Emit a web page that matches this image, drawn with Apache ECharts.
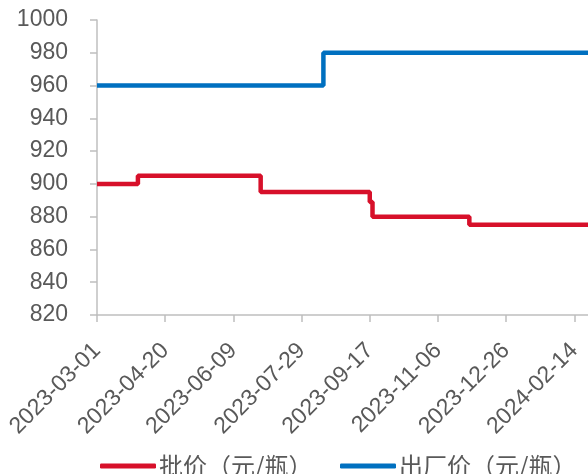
<!DOCTYPE html>
<html><head><meta charset="utf-8">
<script src="https://cdn.jsdelivr.net/npm/echarts@6/dist/echarts.min.js"></script>
<style>html,body{margin:0;padding:0;background:#fff}#c{width:588px;height:474px}</style>
</head><body><div id="c"></div>
<script>
// Data: change points of the step series
const startDate = '2023-03-01';
const endDate = '2024-02-24';
const pfDates = ['2023-03-01','2023-03-31','2023-06-29','2023-09-17','2023-09-19','2023-11-29','2024-02-24'];
const pfValues = [900, 905, 895, 889, 880, 875, 875];
const ccDates = ['2023-03-01','2023-08-14','2024-02-24'];
const ccValues = [960, 980, 980];
const seriesNames = ['批价（元/瓶）', '出厂价（元/瓶）'];
const yTicks = {min: 820, max: 1000, interval: 20};
const xTickIntervalDays = 50;

const DAY = 86400000;
const t0 = Date.parse(startDate + 'T00:00:00Z');
const toDay = d => Math.round((Date.parse(d + 'T00:00:00Z') - t0) / DAY);
const fmt = n => new Date(t0 + n * DAY).toISOString().slice(0, 10);
const pairs = (ds, vs) => ds.map((d, i) => [toDay(d), vs[i]]);

const font = 'Liberation Sans, Arial, Noto Sans CJK SC, sans-serif';
const gray = '#595959';
const axisGray = '#BFBFBF';
const legendBase = {
  top: 449, itemWidth: 56, itemHeight: 5, icon: 'roundRect',
  textStyle: {color: gray, fontSize: 24, fontFamily: 'Noto Sans CJK SC, sans-serif', padding: [0,0,0,-2]}
};

const chart = echarts.init(document.getElementById('c'));
chart.setOption({
  animation: false,
  grid: {left: 97, top: 20, right: 0, bottom: 159, containLabel: false},
  xAxis: {
    type: 'value', min: 0, max: toDay(endDate), interval: xTickIntervalDays,
    splitLine: {show: false},
    axisLine: {show: true, lineStyle: {color: axisGray, width: 1.5}},
    axisTick: {show: true, length: 7, lineStyle: {color: axisGray, width: 1.5}},
    axisLabel: {rotate: 45, margin: 32, color: gray, fontSize: 23, fontFamily: font,
      showMaxLabel: false, formatter: v => fmt(v)}
  },
  yAxis: {
    type: 'value', min: yTicks.min, max: yTicks.max, interval: yTicks.interval,
    splitLine: {show: false},
    axisLine: {show: true, lineStyle: {color: axisGray, width: 1.5}},
    axisTick: {show: true, length: 7, lineStyle: {color: axisGray, width: 1.5}},
    axisLabel: {margin: 29, color: gray, fontSize: 23, fontFamily: font, formatter: v => String(v)}
  },
  legend: [
    Object.assign({left: 95, data: [seriesNames[0]]}, legendBase),
    Object.assign({left: 335, data: [seriesNames[1]]}, legendBase)
  ],
  series: [
    {name: seriesNames[0], type: 'line', step: 'end', showSymbol: false, data: pairs(pfDates, pfValues),
      color: '#D7102A', lineStyle: {width: 4.5, color: '#D7102A'}},
    {name: seriesNames[1], type: 'line', step: 'end', showSymbol: false, data: pairs(ccDates, ccValues),
      color: '#0070C0', lineStyle: {width: 4.5, color: '#0070C0'}}
  ]
});
</script></body></html>
